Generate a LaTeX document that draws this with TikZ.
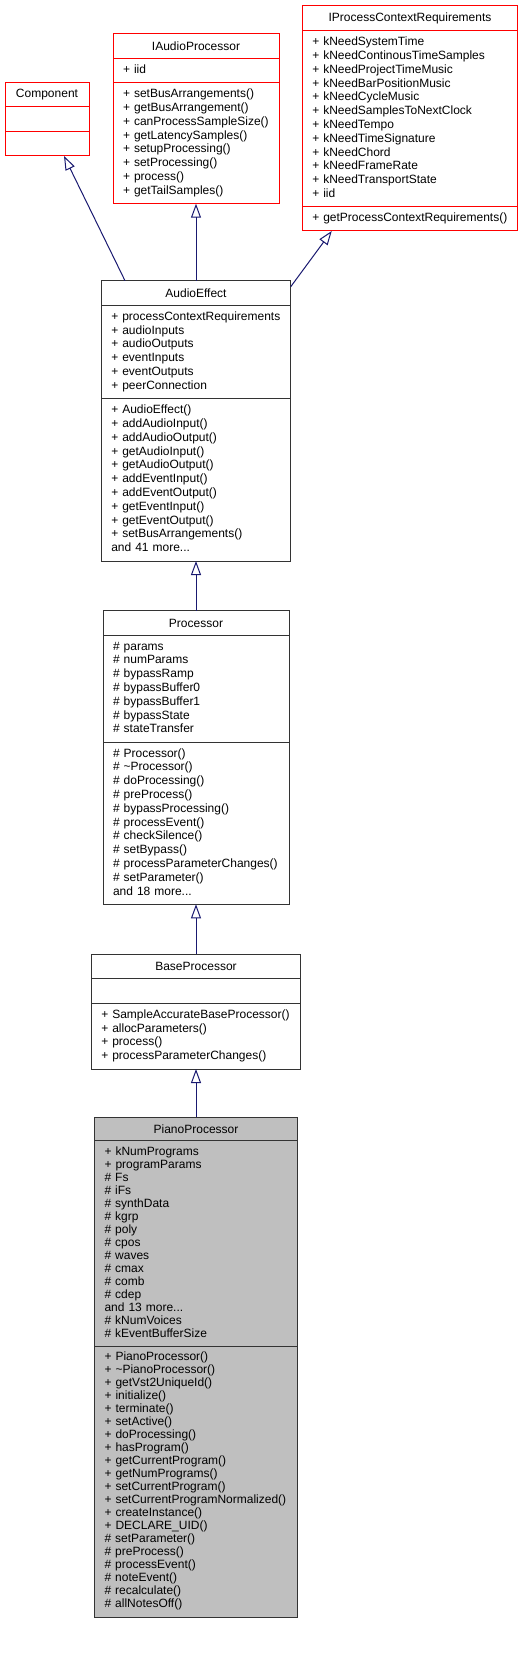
\documentclass[tikz,border=0pt]{standalone}
\usepackage{fontspec}
\setmainfont{Liberation Sans}
\usetikzlibrary{arrows.meta,positioning}
\definecolor{Navy}{HTML}{191970}
\definecolor{Frame}{HTML}{333333}
\definecolor{Alert}{HTML}{FF0000}
\definecolor{Shade}{HTML}{BFBFBF}
\tikzset{part/.style={draw=Frame,line width=1pt,outer sep=0pt,inner ysep=0pt,font=\fontsize{12}{13.8}\selectfont},head/.style={part,minimum height=24.5pt,align=center},list/.style={part,align=left,inner xsep=10pt,execute at begin node=\strut,execute at end node=\strut},undoc/.style={draw=Alert},focus/.style={fill=Shade,font=\fontsize{12}{13}\selectfont},inherit/.style={-{Triangle[open,length=14pt,width=10pt]},line width=1pt,draw=Navy}}

\begin{document}
\begin{tikzpicture}[x=1pt,y=-1pt,node distance=0pt]
      \useasboundingbox (0,0) rectangle (524,1653);
      % base classes
      \node[head,undoc,minimum width=84pt,anchor=north](comp)at(47,82.3){Component};
      \node[list,undoc,text width=64pt,minimum height=24.5pt,below=of comp](compattr){};
      \node[list,undoc,text width=64pt,minimum height=24.7pt,below=of compattr](compops){};
      \node[head,undoc,minimum width=166pt,anchor=north](iap)at(196,33.7){IAudioProcessor};
      \node[list,undoc,text width=146pt,minimum height=24.5pt,below=of iap](iapattr){+~iid};
      \node[list,undoc,text width=146pt,minimum height=121pt,below=of iapattr](iapops){+~setBusArrangements()\\+~getBusArrangement()\\+~canProcessSampleSize()\\+~getLatencySamples()\\+~setupProcessing()\\+~setProcessing()\\+~process()\\+~getTailSamples()};
      \node[head,undoc,minimum width=215.5pt,minimum height=25pt,anchor=north](ipcr)at(410,6){IProcessContextRequirements};
      \node[list,undoc,text width=195.5pt,minimum height=175.7pt,below=of ipcr](ipcrattr){+~kNeedSystemTime\\+~kNeedContinousTimeSamples\\+~kNeedProjectTimeMusic\\+~kNeedBarPositionMusic\\+~kNeedCycleMusic\\+~kNeedSamplesToNextClock\\+~kNeedTempo\\+~kNeedTimeSignature\\+~kNeedChord\\+~kNeedFrameRate\\+~kNeedTransportState\\+~iid};
      \node[list,undoc,text width=195.5pt,minimum height=24.3pt,below=of ipcrattr](ipcrops){+~getProcessContextRequirements()};
      % AudioEffect
      \node[head,minimum width=189.5pt,anchor=north](effect)at(196,280.7){AudioEffect};
      \node[list,text width=169.5pt,minimum height=93.5pt,below=of effect](effectattr){+~processContextRequirements\\+~audioInputs\\+~audioOutputs\\+~eventInputs\\+~eventOutputs\\+~peerConnection};
      \node[list,text width=169.5pt,minimum height=162.3pt,below=of effectattr](effectops){+~AudioEffect()\\+~addAudioInput()\\+~addAudioOutput()\\+~getAudioInput()\\+~getAudioOutput()\\+~addEventInput()\\+~addEventOutput()\\+~getEventInput()\\+~getEventOutput()\\+~setBusArrangements()\\and 41 more...};
      % Processor
      \node[head,minimum width=186pt,anchor=north](proc)at(196,610.7){Processor};
      \node[list,text width=166pt,minimum height=107.1pt,below=of proc](procattr){\#~params\\\#~numParams\\\#~bypassRamp\\\#~bypassBuffer0\\\#~bypassBuffer1\\\#~bypassState\\\#~stateTransfer};
      \node[list,text width=166pt,minimum height=162pt,below=of procattr](procops){\#~Processor()\\\#~\textasciitilde Processor()\\\#~doProcessing()\\\#~preProcess()\\\#~bypassProcessing()\\\#~processEvent()\\\#~checkSilence()\\\#~setBypass()\\\#~processParameterChanges()\\\#~setParameter()\\and 18 more...};
      % BaseProcessor
      \node[head,minimum width=209.5pt,anchor=north](base)at(196,954){BaseProcessor};
      \node[list,text width=189.5pt,minimum height=24.8pt,below=of base](baseattr){};
      \node[list,text width=189.5pt,minimum height=65.7pt,below=of baseattr](baseops){+~SampleAccurateBaseProcessor()\\+~allocParameters()\\+~process()\\+~processParameterChanges()};
      % PianoProcessor
      \node[head,focus,minimum width=203pt,minimum height=23.7pt,anchor=north](piano)at(196,1117){PianoProcessor};
      \node[list,focus,text width=183pt,minimum height=205.6pt,below=of piano](pianoattr){+~kNumPrograms\\+~programParams\\\#~Fs\\\#~iFs\\\#~synthData\\\#~kgrp\\\#~poly\\\#~cpos\\\#~waves\\\#~cmax\\\#~comb\\\#~cdep\\and 13 more...\\\#~kNumVoices\\\#~kEventBufferSize};
      \node[list,focus,text width=183pt,minimum height=271pt,below=of pianoattr](pianoops){+~PianoProcessor()\\+~\textasciitilde PianoProcessor()\\+~getVst2UniqueId()\\+~initialize()\\+~terminate()\\+~setActive()\\+~doProcessing()\\+~hasProgram()\\+~getCurrentProgram()\\+~getNumPrograms()\\+~setCurrentProgram()\\+~setCurrentProgramNormalized()\\+~createInstance()\\+~DECLARE\_UID()\\\#~setParameter()\\\#~preProcess()\\\#~processEvent()\\\#~noteEvent()\\\#~recalculate()\\\#~allNotesOff()};
      % inheritance
      \draw[inherit]([xshift=-71pt]effect.north)--([xshift=17pt]compops.south);\draw[inherit](effect.north)--(iapops.south);\draw[inherit]([yshift=-6pt]effect.north east)--([xshift=29.5pt]ipcrops.south west);
      \draw[inherit](proc.north)--(effectops.south);\draw[inherit](base.north)--(procops.south);\draw[inherit](piano.north)--(baseops.south);
    \end{tikzpicture}
\end{document}
